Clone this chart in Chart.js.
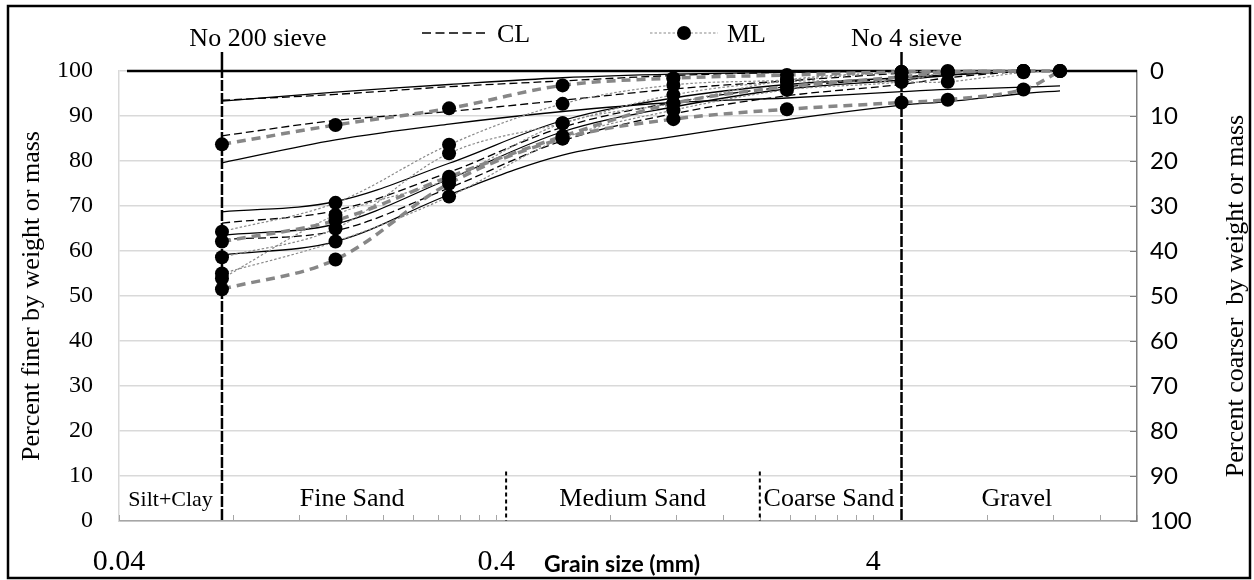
<!DOCTYPE html>
<html>
<head>
<meta charset="utf-8">
<script src="https://cdn.jsdelivr.net/npm/chart.js@4"></script>
<style>
html, body { margin: 0; padding: 0; background: #fff; }
canvas { display: block; }
</style>
</head>
<body>
<canvas id="chart" width="1254" height="580"></canvas>
<script>
"use strict";

// sieve openings (mm)
const SIEVES = [0.075, 0.15, 0.3, 0.6, 1.18, 2.36, 4.75, 6.3, 10, 12.5];

// percent finer, gray dashed series with markers
const G1 = [83.7, 88.0, 91.7, 96.8, 98.4, 99.1, 99.8, 99.8, 100, 100];
const G2 = [51.5, 58.1, 75.0, 85.0, 89.3, 91.5, 93.0, 93.6, 95.9, 100];
const G3 = [62.1, 66.8, 76.5, 85.5, 92.8, 96.5, 98.7, 99.8, 100];

// ML samples (dotted, markers)
const ML1 = [64.3, 70.7, 83.6, 92.7, 96.9, 98.0, 99.8, 99.8, 100];
const ML2 = [58.6, 65.0, 81.7, 88.4, 94.7, 97.6, 97.6, 97.6, 99.7, 100];
const ML3 = [55.0, 62.1, 72.1, 85.0, 91.3, 95.8, 97.6, 99.8, 100];
const ML4 = [53.9, 68.0, 76.0, 88.4, 92.8, 98.0, 99.8, 100];

// CL samples (dashed)
const CL1 = [93.5, 94.8, 96.5, 97.8, 99.0, 99.7, 100];
const CL2 = [85.6, 89.0, 91.0, 93.5, 96.0, 97.8, 99.5, 100];
const CL3 = [66.2, 69.0, 77.5, 87.5, 93.0, 96.5, 98.5, 100];
const CL4 = [62.5, 64.5, 74.0, 84.5, 90.5, 94.5, 97.0, 98.5, 100];

// solid curves
const S1 = [93.3, 95.3, 97.0, 98.5, 99.3, 99.7, 100];
const S2 = [79.6, 84.7, 88.2, 91.0, 93.0, 94.0, 95.4, 95.9, 96.4, 96.7];
const S3 = [68.7, 71.0, 79.5, 89.0, 94.0, 97.0, 98.5, 99.2, 100];
const S4 = [63.5, 66.0, 76.0, 86.5, 92.0, 96.0, 98.0, 99.0, 100];
const S5 = [59.1, 62.1, 72.5, 81.3, 85.4, 89.2, 92.4, 93.2, 95.0, 95.6];

const TOP_LINE_X = [0.042, 20];
const NO200 = 0.075;
const NO4 = 4.75;
const FINE_MEDIUM = 0.425;
const MEDIUM_COARSE = 2.0;

const X_MIN = 0.04, X_MAX = 20;
const X_LABELS = [0.04, 0.4, 4];
const X_TICKS = [];
for (const base of [0.04, 0.4, 4]) {
  for (let k = 1; k <= 9; k++) {
    const v = +(base * k).toFixed(4);
    if (v <= X_MAX) X_TICKS.push(v);
  }
}

const REGIONS = [
  { text: "Silt+Clay", x: 0.0548, size: 22 },
  { text: "Fine Sand", x: 0.166, size: 26 },
  { text: "Medium Sand", x: 0.92, size: 26 },
  { text: "Coarse Sand", x: 3.05, size: 26 },
  { text: "Gravel", x: 9.6, size: 26 },
];

const SERIF = "'Liberation Serif', 'Times New Roman', serif";
const SANS = "Lato, 'Liberation Sans', sans-serif";

function pts(values) {
  return values.map((v, i) => ({ x: SIEVES[i], y: v }));
}

const base = { fill: false, tension: 0.35, clip: false, pointHoverRadius: 0 };
const solid = Object.assign({}, base, { borderColor: "#000", borderWidth: 1.3, pointRadius: 0, order: 2 });
const clStyle = Object.assign({}, base, { borderColor: "#000", borderWidth: 1.3, borderDash: [8, 4], pointRadius: 0, order: 2 });
const mlStyle = Object.assign({}, base, { borderColor: "#8a8a8a", borderWidth: 1.2, borderDash: [2.5, 2],
  pointRadius: 7, pointBorderWidth: 0, pointBackgroundColor: "#000", pointBorderColor: "#000", order: 0 });
const grayStyle = Object.assign({}, base, { borderColor: "#878787", borderWidth: 3.5, borderDash: [9, 6],
  pointRadius: 7, pointBorderWidth: 0, pointBackgroundColor: "#000", pointBorderColor: "#000", order: 1 });

const datasets = [
  ...[G1, G2, G3].map((d, i) => Object.assign({ label: "G" + (i + 1), data: pts(d) }, grayStyle)),
  ...[ML1, ML2, ML3, ML4].map((d, i) => Object.assign({ label: "ML" + (i + 1), data: pts(d) }, mlStyle)),
  ...[CL1, CL2, CL3, CL4].map((d, i) => Object.assign({ label: "CL" + (i + 1), data: pts(d) }, clStyle)),
  ...[S1, S2, S3, S4, S5].map((d, i) => Object.assign({ label: "S" + (i + 1), data: pts(d) }, solid)),
  Object.assign({}, base, { label: "top", data: TOP_LINE_X.map((x) => ({ x, y: 100 })), borderColor: "#000",
    borderWidth: 2.5, pointRadius: 0, tension: 0, order: 3 }),
  ...[NO200, NO4].map((x) => Object.assign({}, base, {
    label: "sieve", data: [{ x, y: 104.2 }, { x, y: 100 }, { x, y: 0 }], borderColor: "#000", borderWidth: 2.5,
    pointRadius: 0, tension: 0, order: 4,
    segment: { borderDash: (c) => (c.p0DataIndex === 0 ? [] : [7, 6]) },
  })),
  ...[FINE_MEDIUM, MEDIUM_COARSE].map((x) => Object.assign({}, base, {
    label: "bound", data: [{ x, y: 11 }, { x, y: 0 }], borderColor: "#000", borderWidth: 2,
    borderDash: [4, 3], pointRadius: 0, tension: 0, order: 4,
  })),
];

const overlay = {
  id: "overlay",
  beforeDatasetsDraw(chart) {
    const { ctx, chartArea: a, scales } = chart;
    ctx.save();
    ctx.strokeStyle = "#a6a6a6";
    ctx.lineWidth = 1;
    for (const v of X_TICKS) {
      const px = Math.round(scales.x.getPixelForValue(v)) + 0.5;
      ctx.beginPath(); ctx.moveTo(px, a.bottom); ctx.lineTo(px, a.bottom - 6); ctx.stroke();
    }
    ctx.strokeStyle = "#7f7f7f";
    for (let v = 0; v <= 100; v += 10) {
      const py = Math.round(scales.y2.getPixelForValue(v)) + 0.5;
      ctx.beginPath(); ctx.moveTo(a.right, py); ctx.lineTo(a.right - 7, py); ctx.stroke();
    }
    ctx.restore();
  },
  afterDraw(chart) {
    const { ctx, chartArea: a, scales } = chart;
    const x = scales.x, y = scales.y;
    ctx.save();
    ctx.fillStyle = "#000";
    ctx.textBaseline = "alphabetic";

    // sieve labels
    ctx.font = "26px " + SERIF;
    ctx.textAlign = "center";
    ctx.fillText("No 200 sieve", x.getPixelForValue(NO200) + 36, 46);
    ctx.fillText("No 4 sieve", x.getPixelForValue(NO4) + 5, 46);

    // legend
    ctx.strokeStyle = "#000"; ctx.lineWidth = 1.3; ctx.setLineDash([9, 4.5]);
    ctx.beginPath(); ctx.moveTo(422, 33); ctx.lineTo(488, 33); ctx.stroke();
    ctx.strokeStyle = "#8a8a8a"; ctx.lineWidth = 1.2; ctx.setLineDash([2.5, 2]);
    ctx.beginPath(); ctx.moveTo(650, 33); ctx.lineTo(718, 33); ctx.stroke();
    ctx.setLineDash([]);
    ctx.beginPath(); ctx.arc(684, 33, 7, 0, Math.PI * 2); ctx.fill();
    ctx.textAlign = "left";
    ctx.fillText("CL", 497, 42);
    ctx.fillText("ML", 727, 42);

    // size classes
    ctx.textAlign = "center";
    for (const r of REGIONS) {
      ctx.font = r.size + "px " + SERIF;
      ctx.fillText(r.text, x.getPixelForValue(r.x), y.getPixelForValue(0) - 15);
    }

    // axis titles
    ctx.font = "26px " + SERIF;
    const mid = (a.top + a.bottom) / 2;
    ctx.save(); ctx.translate(39, mid); ctx.rotate(-Math.PI / 2);
    ctx.fillText("Percent finer by weight or mass", 0, 0); ctx.restore();
    ctx.save(); ctx.translate(1243, mid); ctx.rotate(-Math.PI / 2);
    ctx.fillText("Percent coarser  by weight or mass", 0, 0); ctx.restore();

    ctx.font = "bold 23px " + SANS;
    ctx.fillText("Grain size (mm)", 622, 572);

    // frame
    ctx.strokeStyle = "#000"; ctx.lineWidth = 2.5;
    ctx.strokeRect(8, 6, 1242, 572);
    ctx.restore();
  },
};

new Chart(document.getElementById("chart"), {
  type: "line",
  data: { datasets },
  options: {
    responsive: false,
    animation: false,
    layout: { padding: { top: 71, left: 0, right: 0, bottom: 0 } },
    plugins: { legend: { display: false }, tooltip: { enabled: false } },
    scales: {
      x: {
        type: "logarithmic", min: X_MIN, max: X_MAX,
        afterBuildTicks: (s) => { s.ticks = X_TICKS.map((v) => ({ value: v })); },
        afterFit: (s) => { s.height = 59; },
        grid: { display: false, drawTicks: false },
        border: { color: "#a6a6a6", width: 1.5 },
        ticks: {
          autoSkip: false, maxRotation: 0, padding: 23, color: "#000",
          font: { family: SERIF, size: 30 },
          callback: (v) => (X_LABELS.some((l) => Math.abs(l - v) < 1e-6) ? String(v) : ""),
        },
      },
      y: {
        position: "left", min: 0, max: 100,
        afterFit: (s) => { s.width = 119; },
        grid: { color: "#d9d9d9", lineWidth: 1.5, drawTicks: false },
        border: { color: "#d9d9d9", width: 1.5 },
        ticks: { stepSize: 10, padding: 26, color: "#000", font: { family: SERIF, size: 24 } },
      },
      y2: {
        position: "right", min: 0, max: 100, reverse: true, display: true,
        afterFit: (s) => { s.width = 117; },
        grid: { drawOnChartArea: false, drawTicks: false },
        border: { color: "#7f7f7f", width: 1.5 },
        ticks: { stepSize: 10, padding: 13, color: "#000", font: { family: SANS, size: 24 } },
      },
    },
  },
  plugins: [overlay],
});
</script>
</body>
</html>
